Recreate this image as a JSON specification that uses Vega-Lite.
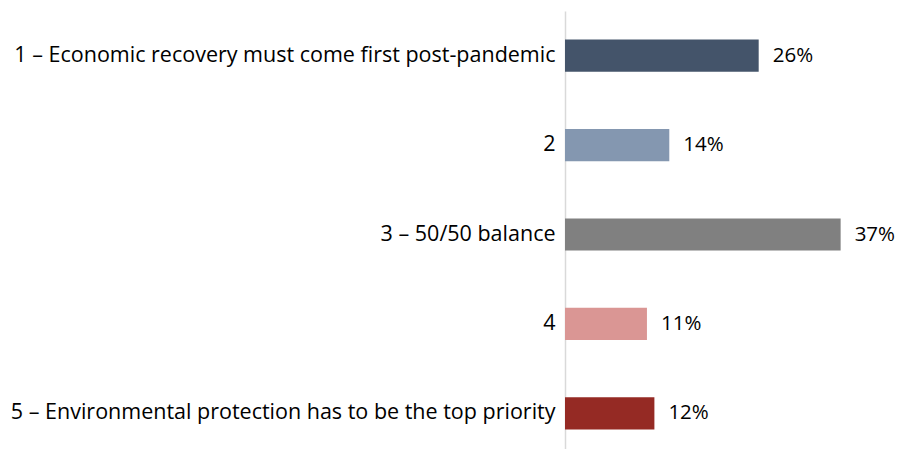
{
  "$schema": "https://vega.github.io/schema/vega-lite/v6.json",
  "width": 333,
  "height": 447,
  "autosize": {"type": "none"},
  "padding": {"left": 565, "top": 11, "right": 0, "bottom": 0},
  "background": "white",
  "config": {"view": {"stroke": null}, "font": "Open Sans"},
  "data": {"values": [
    {"label": "1 – Economic recovery must come first post-pandemic", "value": 0.26, "color": "#44546A"},
    {"label": "2", "value": 0.14, "color": "#8497B0"},
    {"label": "3 – 50/50 balance", "value": 0.37, "color": "#808080"},
    {"label": "4", "value": 0.11, "color": "#DA9694"},
    {"label": "5 – Environmental protection has to be the top priority", "value": 0.12, "color": "#952A24"}
  ]},
  "encoding": {
    "y": {"field": "label", "type": "nominal", "sort": null,
      "scale": {"paddingInner": 0.64, "paddingOuter": 0.32},
      "axis": {"title": null, "ticks": false, "labelFontSize": 21.5, "labelColor": "#000000", "labelPadding": 10, "labelLimit": 600, "domainColor": "#D9D9D9", "domainWidth": 1.5}},
    "x": {"field": "value", "type": "quantitative", "scale": {"domain": [0, 0.447]}, "axis": null}
  },
  "layer": [
    {"mark": {"type": "bar"}, "encoding": {"color": {"field": "color", "type": "nominal", "scale": null}}},
    {"mark": {"type": "text", "align": "left", "dx": 14, "fontSize": 20.5, "color": "#000000"},
     "encoding": {"text": {"field": "value", "type": "quantitative", "format": ".0%"}}}
  ]
}
